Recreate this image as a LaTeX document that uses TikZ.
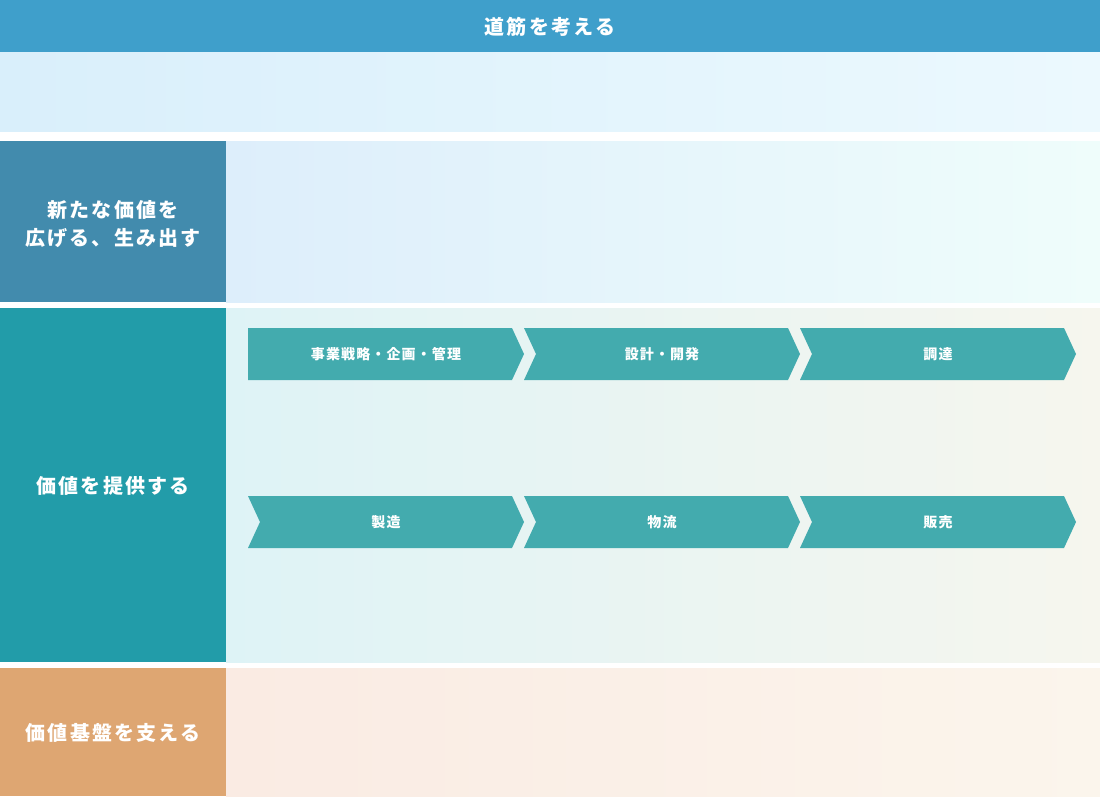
\documentclass[tikz,border=0pt]{standalone}
\usepackage{fontspec}
\newfontfamily\jp{Noto Sans CJK JP}[LetterSpace=11]
\newfontfamily\jps{Noto Sans CJK JP}[LetterSpace=8]
\definecolor{hdr}{HTML}{3F9FCB}
\definecolor{bandA}{HTML}{D9EFFB}
\definecolor{bandB}{HTML}{ECF9FE}
\definecolor{lblA}{HTML}{428BAD}
\definecolor{lblB}{HTML}{229CA9}
\definecolor{lblC}{HTML}{DEA672}
\definecolor{rowAa}{HTML}{DDEEFB}
\definecolor{rowAb}{HTML}{EFFDFB}
\definecolor{rowBa}{HTML}{DEF3F6}
\definecolor{rowBb}{HTML}{F6F6EE}
\definecolor{rowCa}{HTML}{FAEBE3}
\definecolor{rowCb}{HTML}{FBF5EC}
\definecolor{chev}{HTML}{43ABAE}
\tikzset{
  bigtext/.style={text=white, font=\jp\bfseries\fontsize{20}{28}\selectfont, align=center, inner sep=0pt},
  chevtext/.style={text=white, font=\jps\bfseries\fontsize{14}{18}\selectfont, inner sep=0pt},
}
\newcommand\mychevN[3]{% x0, ytop, ybot
  \fill[chev] (#1,#2) -- (#1+264,#2) -- (#1+276,{(#2+#3)/2}) -- (#1+264,#3) -- (#1,#3) -- (#1+12,{(#2+#3)/2}) -- cycle;
}
\newcommand\mychevF[3]{% x0, ytop, ybot
  \fill[chev] (#1,#2) -- (#1+264,#2) -- (#1+276,{(#2+#3)/2}) -- (#1+264,#3) -- (#1,#3) -- cycle;
}
\begin{document}
\begin{tikzpicture}[x=1pt,y=-1pt]
\useasboundingbox (0,0) rectangle (1100,796);
\fill[white] (0,0) rectangle (1100,796);
% header
\fill[hdr] (0,0) rectangle (1100,52);
\node[bigtext] (hdrtext) at (550,27) {道筋を考える};
\shade[left color=bandA, right color=bandB] (0,52) rectangle (1100,131);
% row 1
\fill[lblA] (0,141) rectangle (226,302);
\shade[left color=rowAa, right color=rowAb] (226,141) rectangle (1100,302);
\node[bigtext] (lblone) at (113,224) {新たな価値を\\広げる、生み出す};
% row 2
\fill[lblB] (0,308) rectangle (226,662);
\shade[left color=rowBa, right color=rowBb] (226,308) rectangle (1100,662);
\node[bigtext] (lbltwo) at (113,486) {価値を提供する};
% row 3
\fill[lblC] (0,668) rectangle (226,796);
\shade[left color=rowCa, right color=rowCb] (226,668) rectangle (1100,796);
\node[bigtext] (lblthree) at (113,733) {価値基盤を支える};
% chevrons row 1
\mychevF{248}{328}{380}
\mychevN{524}{328}{380}
\mychevN{800}{328}{380}
\node[chevtext] (c1) at (386,354) {事業戦略・企画・管理};
\node[chevtext] (c2) at (662,354) {設計・開発};
\node[chevtext] (c3) at (938,354) {調達};
% chevrons row 2
\mychevN{248}{496}{548}
\mychevN{524}{496}{548}
\mychevN{800}{496}{548}
\node[chevtext] (c4) at (386,522) {製造};
\node[chevtext] (c5) at (662,522) {物流};
\node[chevtext] (c6) at (938,522) {販売};
\end{tikzpicture}
\end{document}
